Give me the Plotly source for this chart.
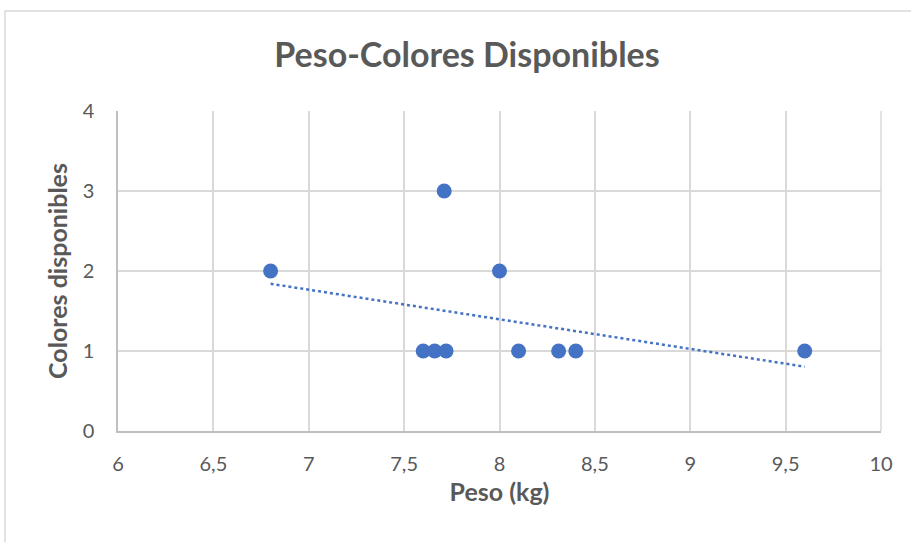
import numpy as np
import plotly.graph_objects as go

peso = [6.8, 7.71, 8.0, 7.6, 7.66, 7.72, 8.1, 8.31, 8.4, 9.6]
colores = [2, 3, 2, 1, 1, 1, 1, 1, 1, 1]

title_text = "Peso-Colores Disponibles"
x_title = "Peso (kg)"
y_title = "Colores disponibles"

blue = "#4472C4"
gray_txt = "#595959"

m, b = np.polyfit(peso, colores, 1)
tx = [min(peso), max(peso)]
ty = [m * v + b for v in tx]

fig = go.Figure()
fig.add_trace(go.Scatter(x=tx, y=ty, mode="lines",
                         line=dict(color=blue, width=2.5, dash="dot"),
                         showlegend=False, hoverinfo="skip"))
fig.add_trace(go.Scatter(x=peso, y=colores, mode="markers",
                         marker=dict(color=blue, size=15),
                         showlegend=False))

W, H = 911, 542
L, R, T, B = 118, 30, 111, 111
pw = W - L - R
ph = H - T - B

def px_x(p):
    return (p - L) / pw

def px_y(p):
    return (H - B - p) / ph

fig.update_layout(
    width=W, height=H,
    margin=dict(l=L, r=R, t=T, b=B),
    paper_bgcolor="white", plot_bgcolor="white",
    separators=",.",
    font=dict(family="Lato, 'Open Sans', sans-serif", color=gray_txt),
    title=dict(text="<b>" + title_text + "</b>", x=px_x(467), xref="paper",
               xanchor="center", y=1 - 55 / H, yref="container", yanchor="middle",
               font=dict(size=34, color=gray_txt)),
    xaxis=dict(range=[6, 10], dtick=0.5, tick0=6,
               showgrid=True, gridcolor="#d9d9d9", gridwidth=1.5,
               showline=True, linecolor="#bfbfbf", linewidth=1.5,
               zeroline=False, ticks="", ticklen=0, ticklabelstandoff=14,
               tickfont=dict(size=20, color=gray_txt),
               title=dict(text="<b>" + x_title + "</b>", font=dict(size=25, color=gray_txt), standoff=10)),
    yaxis=dict(range=[0, 4], dtick=1, tick0=0,
               showgrid=True, gridcolor="#d9d9d9", gridwidth=1.5,
               showline=True, linecolor="#bfbfbf", linewidth=1.5,
               zeroline=False, ticks="", ticklen=0, ticklabelstandoff=18,
               tickfont=dict(size=20, color=gray_txt),
               title=dict(text="<b>" + y_title + "</b>", font=dict(size=25, color=gray_txt), standoff=8)),
    shapes=[
        dict(type="line", xref="paper", yref="paper",
             x0=1, x1=1, y0=0, y1=1, line=dict(color="#d9d9d9", width=1.5)),
        dict(type="rect", xref="paper", yref="paper",
             x0=px_x(5), x1=px_x(960), y0=px_y(11), y1=px_y(600),
             line=dict(color="#d9d9d9", width=1.5), layer="below"),
    ],
)

fig.write_html("out.html", config={"displayModeBar": False},
               post_script="document.body.style.margin='0';")
